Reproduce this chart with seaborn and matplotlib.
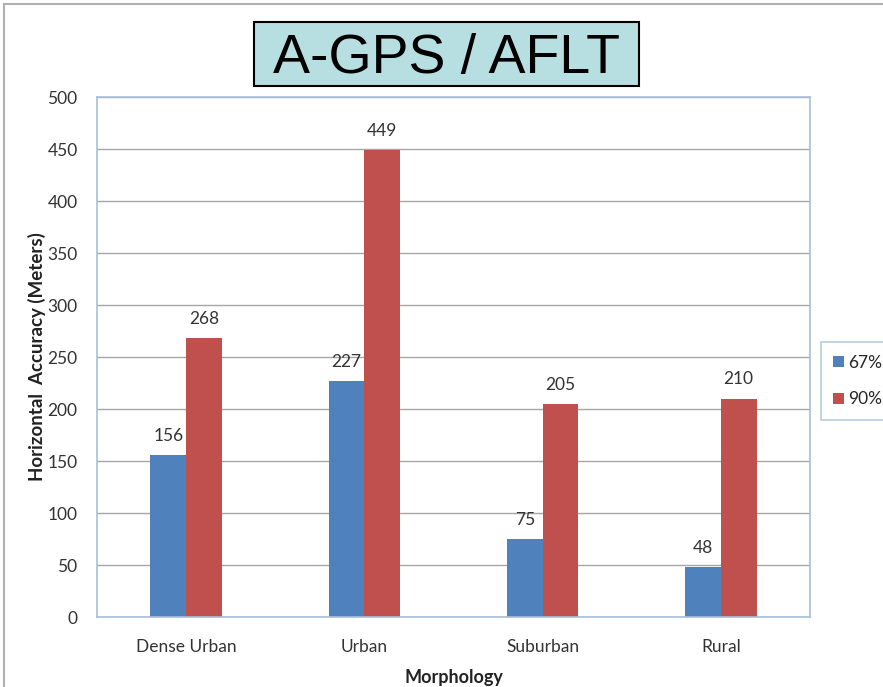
import matplotlib
matplotlib.use("Agg")
import matplotlib.pyplot as plt
import seaborn as sns
import pandas as pd
from matplotlib.patches import Rectangle

categories = ["Dense Urban", "Urban", "Suburban", "Rural"]
series_names = ["67%", "90%"]
values_67 = [156, 227, 75, 48]
values_90 = [268, 449, 205, 210]
y_ticks = [0, 50, 100, 150, 200, 250, 300, 350, 400, 450, 500]

df = pd.DataFrame({
    "Morphology": categories * 2,
    "Series": [series_names[0]] * 4 + [series_names[1]] * 4,
    "Value": values_67 + values_90,
})

sns.set_theme(style="white")
plt.rcParams["font.family"] = ["Lato", "DejaVu Sans"]

fig = plt.figure(figsize=(8.83, 6.87), dpi=100)
ax = fig.add_axes([97 / 883, 70 / 687, 713 / 883, 520 / 687])

palette = {"67%": "#4F81BD", "90%": "#C0504D"}
sns.barplot(data=df, x="Morphology", y="Value", hue="Series", order=categories,
            hue_order=series_names, palette=palette, width=0.4, ax=ax,
            saturation=1, linewidth=0, legend=True)

ax.set_xlim(-0.5, 3.5)
ax.set_ylim(0, 500)
ax.set_yticks(y_ticks)
ax.set_yticklabels([str(t) for t in y_ticks], fontsize=12.5, color="#333333")
ax.tick_params(axis="x", labelsize=12.5, colors="#333333", pad=16, length=0)
ax.tick_params(axis="y", length=0, pad=14)
ax.yaxis.grid(True, color="#A6A6A6", linewidth=1)
ax.set_axisbelow(True)
for s in ax.spines.values():
    s.set_color("#A9BFD9")
    s.set_linewidth(1.2)

ax.set_xlabel("Morphology", fontsize=13, fontweight="bold", color="#222222", labelpad=10)
ax.set_ylabel("Horizontal  Accuracy (Meters)", fontsize=13.5, fontweight="bold",
              color="#222222", labelpad=1)

for cont in ax.containers:
    ax.bar_label(cont, padding=8, fontsize=12.5, color="#333333")

leg = ax.legend(loc="center left", bbox_to_anchor=(821 / 883, (687 - 381) / 687),
                bbox_transform=fig.transFigure, frameon=True, fontsize=12.5,
                handlelength=0.6, handleheight=0.6, handletextpad=0.25,
                labelspacing=1.2, borderpad=0.7, borderaxespad=0,
                fancybox=False)
leg.get_frame().set_edgecolor("#A9BFD9")
leg.get_frame().set_linewidth(1.2)

# figure border
fig.patches.append(Rectangle((4 / 883, -0.01), 1.0, (683 / 687) + 0.01,
                             transform=fig.transFigure, fill=False,
                             edgecolor="#B0B0B0", linewidth=1.5))

# title box
fig.patches.append(Rectangle((254 / 883, (687 - 86) / 687), 385 / 883, 64 / 687,
                             transform=fig.transFigure, facecolor="#B7DEE0",
                             edgecolor="black", linewidth=1.5))
fig.text(446 / 883, (687 - 59) / 687, "A-GPS / AFLT",
         family=["Liberation Sans Narrow", "Liberation Sans", "DejaVu Sans"],
         fontstretch="condensed", fontsize=40, ha="center", va="center",
         color="black")

fig.savefig("out.png", dpi=100)
